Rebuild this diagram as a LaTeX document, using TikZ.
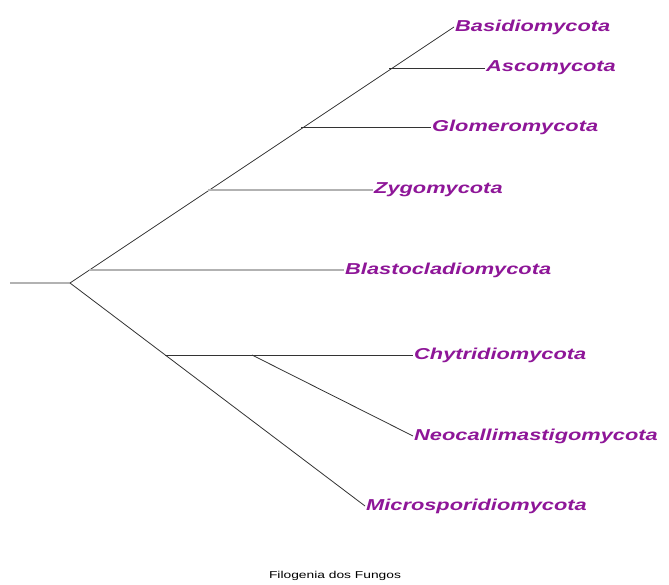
\documentclass[tikz,border=0pt]{standalone}
\usepackage{fontspec}
\setsansfont{Liberation Sans}
\newfontfamily\taxfont[FakeStretch=1.38]{Liberation Sans}
\usetikzlibrary{positioning}
\definecolor{taxpurple}{RGB}{142,22,152}

\begin{document}
\begin{tikzpicture}[x=1pt,y=-1pt,
taxon/.style={anchor=west,inner sep=1pt,text=taxpurple,font=\taxfont\bfseries\itshape\fontsize{15.8}{18}\selectfont},
branch/.style={draw=black!80,line width=0.8pt},
pale/.style={draw=black!30,line width=1.4pt}]
\useasboundingbox[fill=white] (0,0) rectangle (669,585);
% fork points
\coordinate (stem) at (10,283);
\coordinate (root) at (70,283);
\coordinate (fasc) at (389,68);
\coordinate (fglo) at (301,127);
\coordinate (fzyg) at (208,190);
\coordinate (fbla) at (89,270);
\coordinate (fchy) at (165,355);
\coordinate (fneo) at (252,355);
% taxa
\node[taxon] (basid) at (454,27) {Basidiomycota};
\node[taxon] (asco) at (485,68) {Ascomycota};
\node[taxon] (glom) at (431,127) {Glomeromycota};
\node[taxon] (zygo) at (373,190) {Zygomycota};
\node[taxon] (blasto) at (344,270) {Blastocladiomycota};
\node[taxon] (chytr) at (413,355) {Chytridiomycota};
\node[taxon] (neo) at (413,436) {Neocallimastigomycota};
\node[taxon] (micro) at (365,506) {Microsporidiomycota};
\node[font=\taxfont\fontsize{10}{12}\selectfont] (title) at (335,576) {Filogenia dos Fungos};
% tree
\draw[pale] (stem)--(root);
\draw[branch] (root)--(basid.west);
\draw[branch] (root)--(micro.west);
\draw[branch] (fasc)--(asco.west);
\draw[branch] (fglo)--(glom.west);
\draw[pale] (fzyg)--(zygo.west);
\draw[pale] (fbla)--(blasto.west);
\draw[branch] (fchy)--(chytr.west);
\draw[branch] (fneo)--(neo.west);
\end{tikzpicture}
\end{document}
